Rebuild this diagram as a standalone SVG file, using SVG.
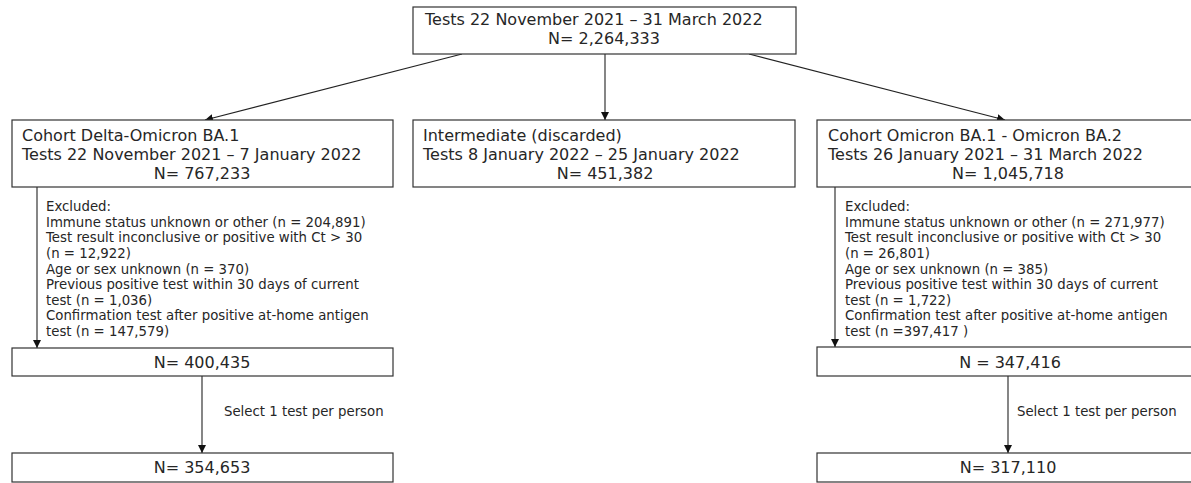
<svg xmlns="http://www.w3.org/2000/svg" width="1191" height="483" viewBox="0 0 1191 483">
<defs>
<style>
.box{fill:#fff;stroke:#333;stroke-width:1.2}
.t{font-family:"DejaVu Sans",Verdana,sans-serif;font-size:16px;fill:#262626}
.s{font-family:"DejaVu Sans",Verdana,sans-serif;font-size:13.3px;fill:#262626}
.c{text-anchor:middle}
.ln{stroke:#222;stroke-width:1.1;fill:none;marker-end:url(#ah)}
</style>
<marker id="ah" viewBox="0 0 10 10" refX="10" refY="5" markerWidth="8" markerHeight="8" markerUnits="userSpaceOnUse" orient="auto">
<path d="M0,0 L10,5 L0,10 z" fill="#111"/>
</marker>
</defs>
<rect width="1191" height="483" fill="#fff"/>
<g id="connectors">
<line class="ln" x1="462" y1="54" x2="205" y2="120"/>
<line class="ln" x1="605" y1="54" x2="605" y2="120"/>
<line class="ln" x1="749" y1="54" x2="1005" y2="120"/>
<line class="ln" x1="37" y1="187" x2="37" y2="348"/>
<line class="ln" x1="835" y1="187" x2="835" y2="347"/>
<line class="ln" x1="202" y1="376" x2="202" y2="453"/>
<line class="ln" x1="1008" y1="376" x2="1008" y2="453"/>
</g>
<g id="top">
<rect class="box" x="413" y="7" width="383" height="47"/>
<text class="t" x="425" y="25">Tests 22 November 2021 – 31 March 2022</text>
<text class="t c" x="604" y="44">N= 2,264,333</text>
</g>
<g id="delta">
<rect class="box" x="12" y="120" width="381" height="67"/>
<text class="t" x="22" y="141">Cohort Delta-Omicron BA.1</text>
<text class="t" x="22" y="160">Tests 22 November 2021 – 7 January 2022</text>
<text class="t c" x="202" y="179">N= 767,233</text>
</g>
<g id="intermediate">
<rect class="box" x="413" y="120" width="382" height="67"/>
<text class="t" x="423" y="141">Intermediate (discarded)</text>
<text class="t" x="423" y="160">Tests 8 January 2022 – 25 January 2022</text>
<text class="t c" x="605" y="179">N= 451,382</text>
</g>
<g id="omicron">
<rect class="box" x="817" y="120" width="383" height="67"/>
<text class="t" x="828" y="141">Cohort Omicron BA.1 - Omicron BA.2</text>
<text class="t" x="828" y="160">Tests 26 January 2021 – 31 March 2022</text>
<text class="t c" x="1008" y="179">N= 1,045,718</text>
</g>
<g id="excluded-left">
<text class="s" x="46" y="211">Excluded:</text>
<text class="s" x="46" y="227">Immune status unknown or other (n = 204,891)</text>
<text class="s" x="46" y="242">Test result inconclusive or positive with Ct &gt; 30</text>
<text class="s" x="46" y="258">(n = 12,922)</text>
<text class="s" x="46" y="274">Age or sex unknown (n = 370)</text>
<text class="s" x="46" y="289">Previous positive test within 30 days of current</text>
<text class="s" x="46" y="305">test (n = 1,036)</text>
<text class="s" x="46" y="320">Confirmation test after positive at-home antigen</text>
<text class="s" x="46" y="336">test (n = 147,579)</text>
</g>
<g id="excluded-right">
<text class="s" x="845" y="211">Excluded:</text>
<text class="s" x="845" y="227">Immune status unknown or other (n = 271,977)</text>
<text class="s" x="845" y="242">Test result inconclusive or positive with Ct &gt; 30</text>
<text class="s" x="845" y="258">(n = 26,801)</text>
<text class="s" x="845" y="274">Age or sex unknown (n = 385)</text>
<text class="s" x="845" y="289">Previous positive test within 30 days of current</text>
<text class="s" x="845" y="305">test (n = 1,722)</text>
<text class="s" x="845" y="320">Confirmation test after positive at-home antigen</text>
<text class="s" x="845" y="336">test (n =397,417 )</text>
</g>
<g id="delta-after">
<rect class="box" x="12" y="348" width="381" height="28"/>
<text class="t c" x="202" y="368">N= 400,435</text>
</g>
<g id="omicron-after">
<rect class="box" x="817" y="347" width="383" height="29"/>
<text class="t c" x="1010" y="368">N = 347,416</text>
</g>
<g id="select-labels">
<text class="s" x="224" y="416">Select 1 test per person</text>
<text class="s" x="1017" y="416">Select 1 test per person</text>
</g>
<g id="delta-final">
<rect class="box" x="12" y="453" width="381" height="29"/>
<text class="t c" x="202" y="473">N= 354,653</text>
</g>
<g id="omicron-final">
<rect class="box" x="817" y="453" width="383" height="29"/>
<text class="t c" x="1008" y="473">N= 317,110</text>
</g>
</svg>
